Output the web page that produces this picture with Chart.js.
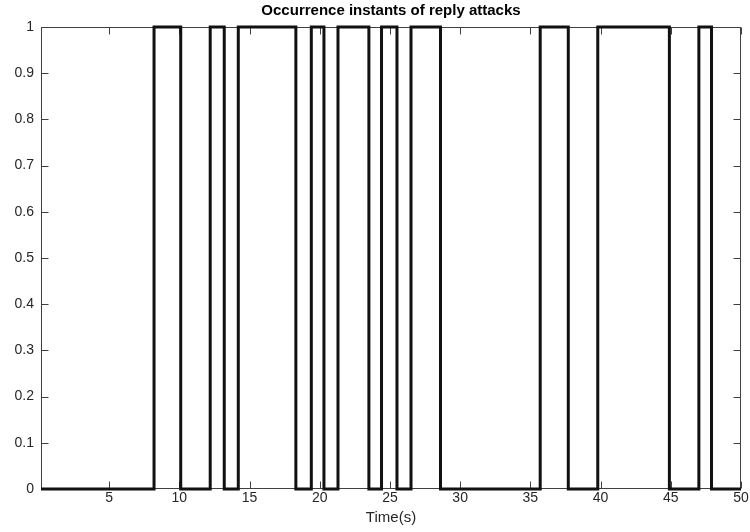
<!DOCTYPE html>
<html>
<head>
<meta charset="utf-8">
<title>Occurrence instants of reply attacks</title>
<script src="https://cdn.jsdelivr.net/npm/chart.js@4.4.1/dist/chart.umd.min.js"></script>
<style>
  html, body { margin: 0; padding: 0; background: #fff; }
</style>
</head>
<body>
<canvas id="attackChart" width="750" height="532"></canvas>
<script>
// attack switching instants (s): signal goes to 1 at each rise, back to 0 at each fall
const riseTimes = [8.2, 12.2, 14.2, 19.4, 21.3, 24.4, 26.5, 35.7, 39.8, 47.0];
const fallTimes = [10.1, 13.2, 18.3, 20.3, 23.5, 25.5, 28.6, 37.7, 44.9, 47.9];
const timeRange = [0.15, 50];
const xTicks = [5, 10, 15, 20, 25, 30, 35, 40, 45, 50];
const yTicks = [0, 0.1, 0.2, 0.3, 0.4, 0.5, 0.6, 0.7, 0.8, 0.9, 1];

const FONT = '"Liberation Sans", Arial, Helvetica, sans-serif';
const AXIS_COLOR = '#404040';

// build the on/off signal as step points
const points = [{ x: timeRange[0], y: 0 }];
riseTimes.forEach((t, i) => {
    points.push({ x: t, y: 1 });
    points.push({ x: fallTimes[i], y: 0 });
});
points.push({ x: timeRange[1], y: 0 });

// box around the plot with inward ticks on all four sides, plus the title
const framePlugin = {
    id: 'frame',
    beforeDatasetsDraw(chart) {
        const { ctx, chartArea: a, scales: { x, y } } = chart;
        const L = Math.round(a.left) + 0.5, R = Math.round(a.right) - 0.5;
        const T = Math.round(a.top) + 0.5, B = Math.round(a.bottom) - 0.5;
        const len = 7;
        ctx.save();
        ctx.strokeStyle = AXIS_COLOR;
        ctx.lineWidth = 1;
        ctx.strokeRect(L, T, R - L, B - T);
        ctx.beginPath();
        x.ticks.forEach(t => {
            const px = Math.round(x.getPixelForValue(t.value)) + 0.5;
            ctx.moveTo(px, B); ctx.lineTo(px, B - len);
            ctx.moveTo(px, T); ctx.lineTo(px, T + len);
        });
        y.ticks.forEach(t => {
            const py = Math.round(y.getPixelForValue(t.value)) + 0.5;
            ctx.moveTo(L, py); ctx.lineTo(L + len, py);
            ctx.moveTo(R, py); ctx.lineTo(R - len, py);
        });
        ctx.stroke();
        ctx.restore();
    },
    afterDraw(chart) {
        const { ctx, chartArea: a } = chart;
        ctx.save();
        ctx.fillStyle = '#000';
        ctx.font = 'bold 15px ' + FONT;
        ctx.textAlign = 'center';
        ctx.textBaseline = 'middle';
        ctx.fillText('Occurrence instants of reply attacks', (a.left + a.right) / 2, 11);
        ctx.restore();
    }
};

new Chart(document.getElementById('attackChart'), {
    type: 'line',
    data: {
        datasets: [{
            data: points,
            stepped: true,
            borderColor: '#111',
            borderWidth: 3,
            pointRadius: 0,
            fill: false,
            clip: false
        }]
    },
    options: {
        responsive: false,
        animation: false,
        devicePixelRatio: 1,
        layout: { padding: { top: 27, right: 9, left: 0, bottom: 0 } },
        plugins: {
            legend: { display: false },
            tooltip: { enabled: false },
            title: { display: false }
        },
        scales: {
            x: {
                type: 'linear',
                min: timeRange[0],
                max: timeRange[1],
                grid: { display: false, drawTicks: false },
                border: { display: false },
                afterBuildTicks: s => { s.ticks = xTicks.map(v => ({ value: v })); },
                afterFit: s => { s.height = 43; },
                ticks: {
                    font: { family: FONT, size: 14 },
                    color: '#262626',
                    padding: 1,
                    maxRotation: 0,
                    autoSkip: false
                },
                title: {
                    display: true,
                    text: 'Time(s)',
                    font: { family: FONT, size: 15 },
                    color: '#262626',
                    padding: { top: 0, bottom: 5 }
                }
            },
            y: {
                min: 0,
                max: 1,
                grid: { display: false, drawTicks: false },
                border: { display: false },
                afterBuildTicks: s => { s.ticks = yTicks.map(v => ({ value: v })); },
                afterFit: s => { s.width = 41; },
                ticks: {
                    font: { family: FONT, size: 14 },
                    color: '#262626',
                    padding: 7,
                    callback: v => String(v)
                }
            }
        }
    },
    plugins: [framePlugin]
});
</script>
</body>
</html>
